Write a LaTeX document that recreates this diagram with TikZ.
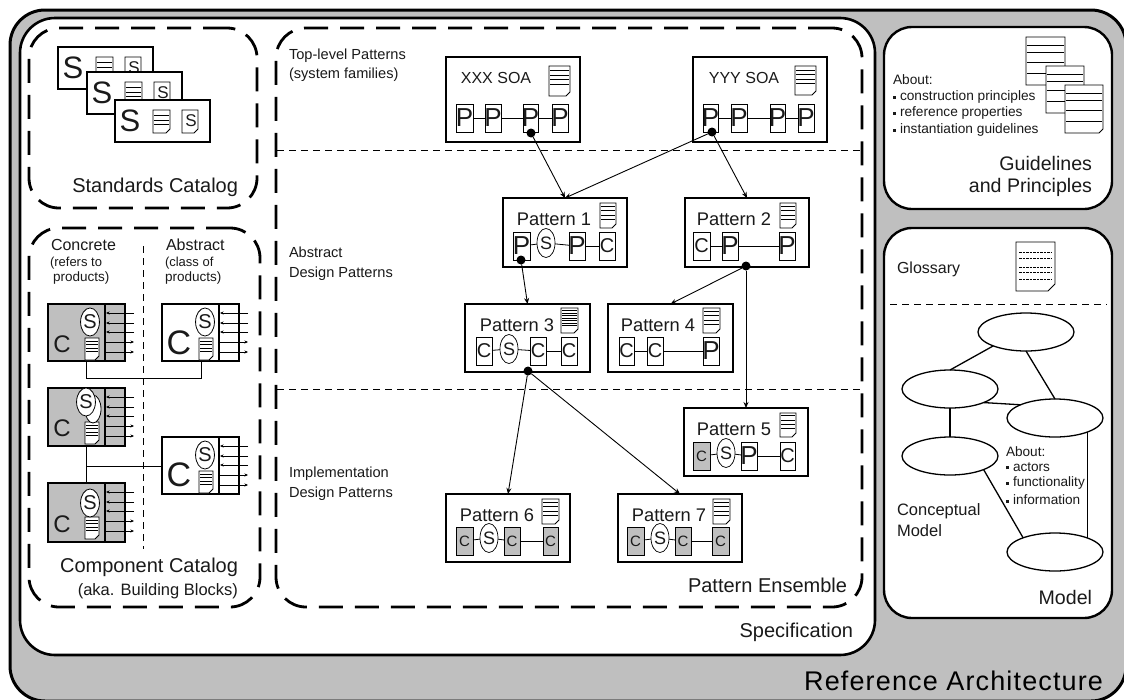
\documentclass[tikz,border=0pt]{standalone}
\usepackage{fontspec}
\setmainfont{Liberation Sans}
\usetikzlibrary{shapes.geometric,arrows.meta}
\definecolor{panelgray}{HTML}{BFBFBF}
\definecolor{inkc}{HTML}{1A1A1A}
\tikzset{
  txt/.style={font=\fontsize{#1}{#1}\selectfont,inner sep=0pt,outer sep=0pt,text=inkc},
  outerbox/.style={draw=black,line width=3pt,fill=panelgray,rounded corners=35pt},
  specbox/.style={draw=black,line width=2.6pt,fill=white,rounded corners=35pt},
  panelbox/.style={draw=black,line width=2.4pt,fill=white,rounded corners=28pt},
  catbox/.style={draw=black,line width=2.8pt,dash pattern=on 24pt off 12pt,rounded corners=30pt},
  cardbox/.style={draw=black,line width=1.2pt,fill=white},
  patbox/.style={draw=black,line width=2.2pt,fill=white},
  item/.style={draw=black,line width=.7pt,fill=white,inner sep=0pt,outer sep=0pt,minimum height=28pt},
  grayitem/.style={item,fill=panelgray},
  sellipse/.style={ellipse,draw=black,line width=.7pt,fill=white,inner sep=0pt,outer sep=0pt,minimum width=18pt,minimum height=29pt},
  compell/.style={ellipse,draw=black,line width=.8pt,fill=white,inner sep=0pt,minimum width=16pt,minimum height=28pt},
  modelell/.style={ellipse,draw=black,line width=1.3pt,fill=white,inner sep=0pt,outer sep=0pt,minimum width=96pt,minimum height=38pt},
  link/.style={draw=black,line width=.8pt},
  modellink/.style={draw=black,line width=1.3pt},
  sepline/.style={draw=black,line width=.8pt,dash pattern=on 7pt off 5pt},
  relarrow/.style={draw=black,line width=.9pt,-{Stealth[length=6pt,width=5pt]}},
  portarrow/.style={draw=black,line width=.7pt,-{Stealth[length=3.5pt,width=3pt]}},
  dot/.style={circle,fill=black,inner sep=0pt,outer sep=0pt,minimum size=9pt},
  docline/.style={line width=.8pt},
}
\newcommand\bx[6]{\node[#1,inner sep=0pt,outer sep=0pt,minimum width={(#5-#3)*1pt},minimum height={(#6-#4)*1pt}] (#2) at ({(#3+#5)/2},{(#4+#6)/2}) {};}
% document icon: x1 y1 x2 y2 line positions
\newcommand\docicon[5]{%
  \draw[line width=.9pt,fill=white] ({#1},{#2})--({#3},{#2})--({#3},{(#4)-4})--({(#3)-4},{#4})--({#1},{#4})--cycle;
  \foreach \f in {#5}{\draw[docline] ({(#1)+1},{(#2)+\f*((#4)-(#2))})--({(#3)-1},{(#2)+\f*((#4)-(#2))});}}
% item in a pattern row: name x1 x2 yc style letter fontsize
\newcommand\pit[7]{\node[#5,txt=#7,text=inkc,minimum width={(#3-#2)*1pt}] (#1) at ({(#2+#3)/2},#4) {\makebox[0pt][c]{#6}};}
\newcommand\sit[3]{\node[sellipse,txt=18,text=inkc] (#1) at (#2,#3) {S};}
% standards card
\newcommand\stdcard[4]{%
  \bx{cardbox,line width=#4}{#1}{#2}{#3}{#2+95}{#3+42}
  \node[txt=31] (#1s) at ({#2+15},{#3+21}) {S};
  \docicon{#2+38}{#3+10}{#2+55}{#3+33}{.25,.45,.62}
  \docicon{#2+67}{#3+10}{#2+83}{#3+33}{}
  \node[txt=17] (#1d) at ({#2+76},{#3+21}) {S};}
% component card: name x y fill Csize Cdx Cdy height
\newcommand\compcard[8]{%
  \bx{cardbox,fill=#4,line width=1.5pt}{#1}{#2}{#3}{#2+77}{#3+#8}
  \draw[line width=1.2pt] ({#2+57},#3)--({#2+57},{#3+#8});
  \foreach \d in {9,19,28}{\draw[portarrow] ({#2+86},{#3+\d})--({#2+58},{#3+\d});}
  \foreach \d in {38,48}{\draw[portarrow] ({#2+58},{#3+\d})--({#2+86},{#3+\d});}
  \node[txt=#5] (#1c) at ({#2+#6},{#3+#7}) {C};
  \docicon{#2+37}{#3+34}{#2+51}{#3+56}{.15,.3,.45,.6}}
\newcommand\bul{\raisebox{2pt}{\rule{3pt}{3pt}}\hspace{4pt}}
\begin{document}
\begin{tikzpicture}[x=1pt,y=-1pt]
\useasboundingbox (0,0) rectangle (1124,699);
\clip (0,0) rectangle (1124,699);
\fill[white] (0,0) rectangle (1124,699);
\bx{outerbox}{outer}{10}{10}{1126}{701}
\bx{specbox}{spec}{20}{18}{875}{655}
\bx{catbox}{stdcat}{29}{28}{257}{208}
\bx{catbox}{compcat}{29}{228}{260}{607}
\bx{catbox}{ensemble}{276}{28}{862}{607}
\bx{panelbox}{guide}{884}{27}{1112}{209}
\bx{panelbox}{model}{884}{228}{1112}{618}

% Standards catalog
\stdcard{sa}{58}{47}{1.2pt}
\stdcard{sb}{87}{72}{1.2pt}
\stdcard{sc}{115}{100}{2pt}
\node[txt=20,anchor=east] (stdlabel) at (238,187) {Standards Catalog};

% Component catalog
\node[txt=16,anchor=west] (lconc) at (51,245) {Concrete};
\node[txt=13,anchor=west] (lconc2) at (50,263) {(refers to};
\node[txt=13.5,anchor=west] (lconc3) at (53,278) {products)};
\node[txt=16,anchor=west] (labs) at (166,245) {Abstract};
\node[txt=13,anchor=west] (labs2) at (165,263) {(class of};
\node[txt=13.5,anchor=west] (labs3) at (165,278) {products)};
\coordinate (catdashtop) at (143.5,246);
\coordinate (catdashbot) at (143.5,549);
\draw[sepline] (catdashtop) -- (catdashbot);
\compcard{ca}{48}{304}{panelgray}{24}{14}{40}{57}
\node[compell,txt=20] (cas) at (90,322) {S};
\compcard{cb}{48}{388}{panelgray}{24}{14}{40}{58}
\node[compell] (cbback) at (93,409) {};
\node[compell,txt=20] (cbs) at (86,402) {S};
\compcard{cc}{48}{483}{panelgray}{24}{14}{41}{59}
\node[compell,txt=20] (ccs) at (90,503) {S};
\compcard{da}{162}{304}{white}{34}{17}{39}{57}
\node[compell,txt=20] (das) at (205,322) {S};
\compcard{db}{162}{437}{white}{34}{17}{38}{57}
\node[compell,txt=20] (dbs) at (205,455) {S};
\coordinate (ja) at (86,378);
\coordinate (jb) at (201,378);
\draw[link,line width=1pt] (ca.south -| ja) -- (ja) -- (jb) -- (da.south -| jb);
\coordinate (jc) at (86,466);
\draw[link,line width=1pt] (cb.south -| jc) -- (cc.north -| jc);
\draw[link,line width=1pt] (jc) -- (db.west |- jc);
\node[txt=20,anchor=east] (complabel) at (238,567) {Component Catalog};
\node[txt=16.5,anchor=east] (complabel2) at (238,591) {(aka. Building Blocks)};

% Pattern ensemble: levels
\coordinate (sa1) at (277,150); \coordinate (sa2) at (861,150);
\coordinate (sb1) at (277,389); \coordinate (sb2) at (861,389);
\draw[sepline] (sa1) -- (sa2);
\draw[sepline] (sb1) -- (sb2);
\node[txt=14.6,anchor=west] (l1a) at (289,56) {Top-level Patterns};
\node[txt=14.6,anchor=west] (l1b) at (289,75) {(system families)};
\node[txt=14.6,anchor=west] (l2a) at (289,252) {Abstract};
\node[txt=14.6,anchor=west] (l2b) at (289,274) {Design Patterns};
\node[txt=14.6,anchor=west] (l3a) at (289,474) {Implementation};
\node[txt=14.6,anchor=west] (l3b) at (289,494) {Design Patterns};
\node[txt=20,anchor=east] (enslabel) at (847,585) {Pattern Ensemble};
\node[txt=20,anchor=east] (speclabel) at (853,632) {Specification};
\node[txt=27,text=black,anchor=east] (reflabel) at (1103,681) {\addfontfeatures{LetterSpace=4.2}Reference Architecture};

% XXX SOA
\bx{patbox}{xxx}{446}{57}{580}{142}
\node[txt=16] (xxxt) at (496,78) {XXX SOA};
\docicon{549}{66}{570}{96}{.15,.3,.45,.6}
\pit{x1}{456}{473}{118}{item}{P}{26}
\pit{x2}{485}{501}{118}{item}{P}{26}
\pit{x3}{523}{538}{118}{item}{P}{26}
\pit{x4}{552}{568}{118}{item}{P}{26}
\draw[link] (x1)--(x2); \draw[link] (x2)--(x3); \draw[link] (x3)--(x4);
\node[dot] (dx) at (531,133) {};
% YYY SOA
\bx{patbox}{yyy}{693}{57}{827}{142}
\node[txt=16] (yyyt) at (744,78) {YYY SOA};
\docicon{795}{66}{816}{95}{.15,.3,.45,.6}
\pit{y1}{703}{718}{118}{item}{P}{26}
\pit{y2}{731}{747}{118}{item}{P}{26}
\pit{y3}{770}{785}{118}{item}{P}{26}
\pit{y4}{798}{814}{118}{item}{P}{26}
\draw[link] (y1)--(y2); \draw[link] (y2)--(y3); \draw[link] (y3)--(y4);
\node[dot] (dy) at (712,132) {};

% Pattern 1
\bx{patbox}{p1}{503}{198}{627}{267}
\node[txt=18.3] (p1t) at (554,219) {Pattern 1};
\docicon{600}{203}{616}{228}{.12,.3,.48,.66}
\pit{a1}{513}{530}{246}{item}{P}{26}
\sit{a2}{546}{243}
\pit{a3}{569}{585}{246}{item}{P}{26}
\pit{a4}{599}{615}{246}{item}{C}{20}
\draw[link] (a1)--(a2); \draw[link] (a2)--(a3); \draw[link] (a3)--(a4);
\node[dot] (d1) at (521,260) {};
% Pattern 2
\bx{patbox}{p2}{685}{198}{809}{267}
\node[txt=18.3] (p2t) at (734,219) {Pattern 2};
\docicon{780}{203}{796}{228}{.12,.3,.48,.66}
\pit{b1}{693}{710}{246}{item}{C}{20}
\pit{b2}{722}{738}{246}{item}{P}{26}
\pit{b3}{779}{795}{246}{item}{P}{26}
\draw[link] (b1)--(b2); \draw[link] (b2)--(b3);
\node[dot] (d2) at (746,266) {};
% Pattern 3
\bx{patbox}{p3}{465}{304}{590}{372}
\node[txt=18.3] (p3t) at (517,325) {Pattern 3};
\docicon{561}{308}{578}{333}{.1,.2,.3,.4,.5,.6,.7}
\pit{c1}{476}{492}{351}{item}{C}{20}
\sit{c2}{509}{349}
\pit{c3}{530}{546}{351}{item}{C}{20}
\pit{c4}{561}{577}{351}{item}{C}{20}
\draw[link] (c1)--(c2); \draw[link] (c2)--(c3); \draw[link] (c3)--(c4);
\node[dot] (d3) at (528,371) {};
% Pattern 4
\bx{patbox}{p4}{608}{304}{733}{372}
\node[txt=18.3] (p4t) at (658,325) {Pattern 4};
\docicon{703}{308}{720}{333}{.12,.3,.48,.66}
\pit{e1}{619}{634}{351}{item}{C}{20}
\pit{e2}{647}{663}{351}{item}{C}{20}
\pit{e3}{703}{719}{351}{item}{P}{26}
\draw[link] (e1)--(e2); \draw[link] (e2)--(e3);
% Pattern 5
\bx{patbox}{p5}{684}{408}{808}{476}
\node[txt=18.3] (p5t) at (734,429) {Pattern 5};
\docicon{780}{413}{796}{437}{.12,.3,.48,.66}
\pit{f1}{693}{710}{456}{grayitem}{C}{15}
\sit{f2}{726}{453}
\pit{f3}{741}{757}{456}{item}{P}{26}
\pit{f4}{780}{795}{456}{item}{C}{20}
\draw[link] (f1)--(f2); \draw[link] (f2)--(f3); \draw[link] (f3)--(f4);
% Pattern 6
\bx{patbox}{p6}{446}{494}{570}{562}
\node[txt=18.3] (p6t) at (497,515) {Pattern 6};
\docicon{542}{499}{559}{524}{.12,.3,.48,.66}
\pit{g1}{456}{473}{541}{grayitem}{C}{15}
\sit{g2}{489}{538}
\pit{g3}{504}{520}{541}{grayitem}{C}{15}
\pit{g4}{543}{558}{541}{grayitem}{C}{15}
\draw[link] (g1)--(g2); \draw[link] (g2)--(g3); \draw[link] (g3)--(g4);
% Pattern 7
\bx{patbox}{p7}{618}{494}{742}{562}
\node[txt=18.3] (p7t) at (669,515) {Pattern 7};
\docicon{713}{499}{730}{524}{.12,.3,.48,.66}
\pit{h1}{627}{644}{541}{grayitem}{C}{15}
\sit{h2}{660}{538}
\pit{h3}{675}{691}{541}{grayitem}{C}{15}
\pit{h4}{712}{729}{541}{grayitem}{C}{15}
\draw[link] (h1)--(h2); \draw[link] (h2)--(h3); \draw[link] (h3)--(h4);

% Relations
\draw[relarrow] (dx) -- (p1.north);
\draw[relarrow] (dy) -- (p1.north);
\draw[relarrow] (dy) -- (p2.north);
\draw[relarrow] (d1) -- (p3.north);
\draw[relarrow] (d2) -- (p4.north);
\draw[relarrow] (d2) -- (p5.north);
\draw[relarrow] (d3) -- (p6.north);
\draw[relarrow] (d3) -- (p7.north);

% Guidelines and Principles
\docicon{1026}{37}{1065}{85}{.18,.33,.52,.76}
\docicon{1046}{66}{1084}{113}{.18,.33,.52,.76}
\docicon{1065}{85}{1103}{133}{.18,.33,.52,.76}
\node[txt=13.7,anchor=west] (ga) at (893,80) {About:};
\node[txt=13.7,anchor=west] (gb) at (893,97) {\bul construction principles};
\node[txt=13.7,anchor=west] (gc) at (893,113) {\bul reference properties};
\node[txt=13.7,anchor=west] (gd) at (893,130) {\bul instantiation guidelines};
\node[txt=19.6,anchor=east] (ge) at (1092,163) {Guidelines};
\node[txt=19.6,anchor=east] (gf) at (1092,187) {and Principles};

% Model
\node[txt=16,anchor=west] (gloss) at (897,269) {Glossary};
\draw[line width=.9pt,fill=white] (1016,242)--(1055,242)--(1055,284)--(1048,291)--(1016,291)--cycle;
\foreach \y in {252,258,267,272,279}{\draw[docline,dash pattern=on 2.5pt off 1pt] (1019,\y)--(1052,\y);}
\coordinate (ms1) at (890,304); \coordinate (ms2) at (1107,304);
\draw[sepline] (ms1) -- (ms2);
\node[modelell] (e1m) at (1026,332) {};
\node[modelell] (e2m) at (950,389) {};
\node[modelell] (e3m) at (1055,418) {};
\node[modelell] (e4m) at (950,456) {};
\node[modelell] (e5m) at (1055,552) {};
\draw[modellink] (e1m.203) -- (e2m.north);
\draw[modellink] (e1m.south) -- (e3m.north);
\draw[modellink] (e2m.338) -- (e3m.159);
\draw[modellink] (e2m.south) -- (e4m.north);
\draw[modellink] (e4m.338) -- (e5m.156);
\draw[modellink] (e3m.337) -- (e5m.23);
\node[txt=13.6,anchor=west] (ma) at (1006,452) {About:};
\node[txt=13.6,anchor=west] (mb) at (1006,467) {\bul actors};
\node[txt=13.6,anchor=west] (mc) at (1006,483) {\bul functionality};
\node[txt=13.6,anchor=west] (md) at (1006,500) {\bul information};
\node[txt=16.5,anchor=west] (cm1) at (897,511) {Conceptual};
\node[txt=16.5,anchor=west] (cm2) at (897,531) {Model};
\node[txt=19.6,anchor=east] (mlabel) at (1092,597) {Model};
\end{tikzpicture}
\end{document}
